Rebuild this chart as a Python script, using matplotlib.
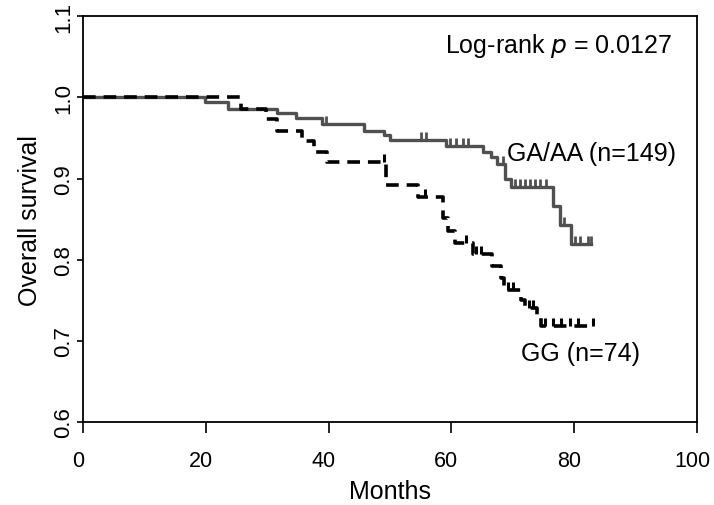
import numpy as np
import matplotlib
matplotlib.use('Agg')
import matplotlib.pyplot as plt
import matplotlib.transforms as mtransforms
from matplotlib.path import Path

plt.rcParams['font.family'] = ['Liberation Sans', 'DejaVu Sans']

# GA/AA group (solid)
ga_t = [0, 19.8, 23.7, 31.6, 34.7, 38.9, 45.7, 49.0, 50.0, 59.2, 65.2, 66.5,
        67.5, 68.8, 69.7, 76.5, 77.7, 79.4, 82.7]
ga_s = [1.0, 0.994, 0.986, 0.981, 0.974, 0.967, 0.959, 0.954, 0.947, 0.940,
        0.933, 0.926, 0.918, 0.900, 0.890, 0.866, 0.843, 0.819, 0.819]
ga_cens = [39.5, 55.1, 55.8, 59.8, 60.8, 61.9, 62.7, 68.4, 70.3, 71.2, 72.0,
           72.8, 73.6, 74.5, 75.4, 78.4, 80.1, 81.0, 82.2, 82.7]

# GG group (dashed)
gg_t = [0, 25.8, 29.8, 31.6, 35.7, 37.6, 39.7, 49.4, 54.6, 58.7, 59.5, 60.6,
        63.5, 66.6, 68.1, 68.6, 71.3, 72.0, 74.0, 74.6, 83.0]
gg_s = [1.0, 0.986, 0.973, 0.958, 0.946, 0.933, 0.920, 0.892, 0.877, 0.851,
        0.835, 0.821, 0.807, 0.792, 0.778, 0.763, 0.750, 0.740, 0.732, 0.718,
        0.718]
gg_cens = [49.0, 55.7, 62.4, 64.0, 64.8, 69.2, 70.0, 72.6, 73.3, 75.2, 76.5,
           77.8, 79.3, 80.6, 83.0]

x_ticks = [0, 20, 40, 60, 80, 100]
y_ticks = [0.6, 0.7, 0.8, 0.9, 1.0, 1.1]


def surv_at(times, surv, pts):
    idx = np.searchsorted(times, pts, side='right') - 1
    return np.asarray(surv)[idx]


# upward tick for censored observations
cens_mark = Path([(0, 0), (0, 1)], [Path.MOVETO, Path.LINETO])

fig = plt.figure(figsize=(7.14, 5.06), dpi=100)
ax = fig.add_axes([0.1162, 0.164, 0.860, 0.802])

ax.step(ga_t, ga_s, where='post', color='#505050', lw=2.4)
ax.plot(ga_cens, surv_at(ga_t, ga_s, ga_cens), ls='none', marker=cens_mark,
        ms=11, mew=2.0, color='#505050')

ax.step(gg_t, gg_s, where='post', color='black', lw=2.6, dashes=(3.5, 2.2))
ax.plot(gg_cens, surv_at(gg_t, gg_s, gg_cens), ls='none', marker=cens_mark,
        ms=11, mew=2.2, color='black')

ax.set_xlim(0, 100)
ax.set_ylim(0.6, 1.1)
ax.set_xticks(x_ticks)
ax.set_yticks(y_ticks)
ax.set_xticklabels([str(v) for v in x_ticks], fontsize=15.5)
ax.set_yticklabels(['%.1f' % v for v in y_ticks], fontsize=16,
                   rotation=90, va='center')
ax.tick_params(axis='x', length=8, width=1.2, pad=12)
ax.tick_params(axis='y', length=4.3, width=1.2, pad=2)
for sp in ax.spines.values():
    sp.set_linewidth(1.3)

# x tick labels sit a little left of their ticks in the original
shift = mtransforms.ScaledTranslation(-5 / 100, 0, fig.dpi_scale_trans)
for lbl in ax.get_xticklabels():
    lbl.set_transform(lbl.get_transform() + shift)

ax.set_xlabel('Months', fontsize=18, labelpad=6)
ax.set_ylabel('Overall survival', fontsize=18, labelpad=8)

ax.text(59.0, 1.064, 'Log-rank $\\it{p}$ = 0.0127', fontsize=18, va='center')
ax.text(69.1, 0.931, 'GA/AA (n=149)', fontsize=18, va='center')
ax.text(71.3, 0.685, 'GG (n=74)', fontsize=18, va='center')

fig.savefig('out.png', dpi=100)
